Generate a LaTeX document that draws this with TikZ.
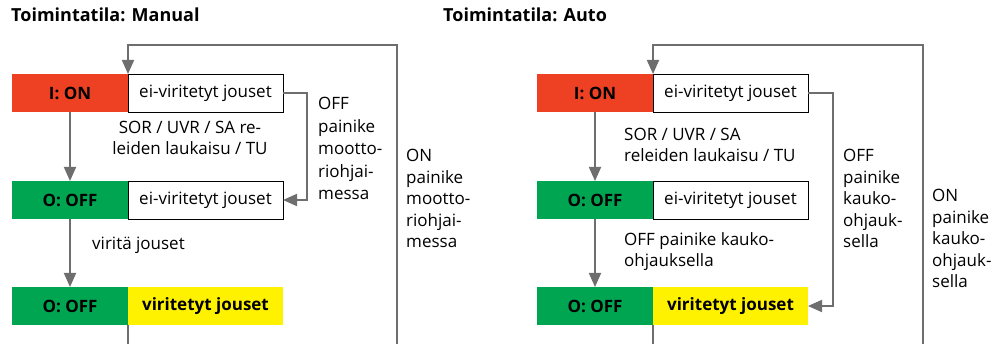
\documentclass[tikz,border=0pt]{standalone}
\usepackage{fontspec}
\setmainfont{Open Sans}
\usetikzlibrary{positioning, arrows.meta}

\definecolor{abbred}{HTML}{EE4123}
\definecolor{abbgreen}{HTML}{00A551}
\definecolor{abbyellow}{HTML}{FFF200}
\definecolor{linegray}{HTML}{6E6E6E}

\begin{document}
\begin{tikzpicture}[
    x=1pt, y=-1pt,
    box/.style={rectangle, minimum width=116pt, minimum height=38pt, inner sep=0pt, outer sep=0pt, font=\fontsize{17}{20}\selectfont},
    onbox/.style={box, fill=abbred, font=\fontsize{17}{20}\selectfont\bfseries},
    offbox/.style={box, fill=abbgreen, font=\fontsize{17}{20}\selectfont\bfseries},
    loose/.style={box, minimum width=155pt, fill=white, draw=black, line width=0.8pt},
    charged/.style={box, minimum width=155pt, fill=abbyellow, font=\fontsize{17}{20}\selectfont\bfseries},
    flow/.style={draw=linegray, line width=1.8pt, -{Triangle[width=12pt, length=14pt]}},
    lbl/.style={font=\fontsize{17}{21.5}\selectfont, inner sep=0pt, align=left, anchor=base west},
    title/.style={font=\fontsize{18}{20}\selectfont\bfseries, inner sep=0pt, anchor=base west},
]
\useasboundingbox (0,0) rectangle (998,344);
\clip (0,0) rectangle (998,344);

% Manual mode
\node[title] (mtitle) at (11,22) {Toimintatila: Manual};

\node[onbox, anchor=north west] (mon) at (12,74) {I: ON};
\node[loose, right=0pt of mon] (mons) {ei-viritetyt jouset};

\node[offbox, below=69pt of mon] (moff) {O: OFF};
\node[loose, right=0pt of moff] (moffs) {ei-viritetyt jouset};

\node[offbox, below=68pt of moff] (mrdy) {O: OFF};
\node[charged, right=0pt of mrdy] (mrdys) {viritetyt jouset};

\coordinate (mloop) at (397,45);

\draw[flow] (mon.south) -- (moff.north);
\draw[flow] (moff.south) -- (mrdy.north);
\draw[flow] (mons.east) -- ++(24,0) |- (moffs.east);
\draw[flow] (mrdys.south west) -- ++(0,40) -| (mloop) -| (mons.north west);

% labels (anchored on the last line)
\node[lbl, align=center, anchor=base] (mtrip) at (190,155) {SOR / UVR / SA re-\\leiden laukaisu / TU};
\node[lbl] (mcharge) at (92,250) {viritä jouset};
\node[lbl, font=\fontsize{17}{22.5}\selectfont] (mofflbl) at (318,200) {OFF\\painike\\mootto-\\riohjai-\\messa};
\node[lbl] (monlbl) at (406,248) {ON\\painike\\mootto-\\riohjai-\\messa};

% Auto mode
\node[title] (atitle) at (443,22) {Toimintatila: Auto};

\node[onbox, anchor=north west] (aon) at (537,74) {I: ON};
\node[loose, right=0pt of aon] (aons) {ei-viritetyt jouset};

\node[offbox, below=69pt of aon] (aoff) {O: OFF};
\node[loose, right=0pt of aoff] (aoffs) {ei-viritetyt jouset};

\node[offbox, below=68pt of aoff] (ardy) {O: OFF};
\node[charged, right=0pt of ardy] (ardys) {viritetyt jouset};

\coordinate (aloop) at (923,45);

\draw[flow] (aon.south) -- (aoff.north);
\draw[flow] (aoff.south) -- (ardy.north);
\draw[flow] (aons.east) -- ++(25,0) |- (ardys.east);
\draw[flow] (ardys.south west) -- ++(0,40) -| (aloop) -| (aons.north west);

\node[lbl] (atrip) at (624,162) {SOR / UVR / SA\\releiden laukaisu / TU};
\node[lbl] (aremote) at (624,267) {OFF painike kauko-\\ohjauksella};
\node[lbl] (aofflbl) at (843,248) {OFF\\painike\\kauko-\\ohjauk-\\sella};
\node[lbl] (aonlbl) at (932,288) {ON\\painike\\kauko-\\ohjauk-\\sella};

\end{tikzpicture}
\end{document}
